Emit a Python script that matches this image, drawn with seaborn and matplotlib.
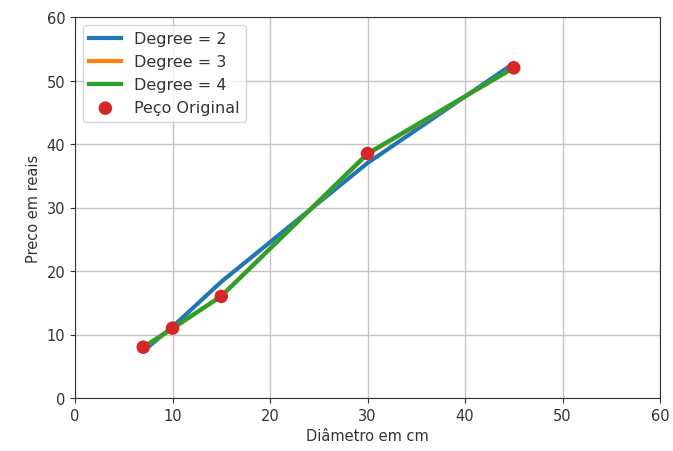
import matplotlib
matplotlib.use("Agg")
import matplotlib.pyplot as plt
import seaborn as sns
import pandas as pd

diametro = [7, 10, 15, 30, 45]
preco = [8, 11, 16, 38.5, 52]
deg2 = [7.4, 11.2, 18.3, 37.0, 52.7]
deg3 = [8.0, 10.9, 16.1, 38.4, 52.0]
deg4 = [8.0, 11.0, 16.0, 38.5, 52.0]

plt.rcParams.update({"text.color": "#333333", "axes.labelcolor": "#333333",
                     "xtick.color": "#333333", "ytick.color": "#333333",
                     "axes.edgecolor": "#333333", "font.size": 10.5})

fig = plt.figure(figsize=(6.73, 4.52), dpi=100)
ax = fig.add_axes([75/673, 1-399/452, (660-75)/673, (399-18)/452])

for vals, lab, col in [(deg2, "Degree = 2", "#1f77b4"),
                       (deg3, "Degree = 3", "#ff7f0e"),
                       (deg4, "Degree = 4", "#2ca02c")]:
    df = pd.DataFrame({"x": diametro, "y": vals})
    sns.lineplot(data=df, x="x", y="y", ax=ax, color=col, linewidth=3, label=lab, sort=False)

dfp = pd.DataFrame({"x": diametro, "y": preco})
sns.scatterplot(data=dfp, x="x", y="y", ax=ax, color="#d62728", s=95, edgecolor="none",
                label="Peço Original", zorder=5)

ax.set_xlim(0, 60)
ax.set_ylim(0, 60)
ax.set_xticks(range(0, 61, 10))
ax.set_yticks(range(0, 61, 10))
ax.grid(True, color="#c4c4c4", linewidth=1)
ax.set_axisbelow(True)
ax.set_xlabel("Diâmetro em cm")
ax.set_ylabel("Preco em reais")
ax.legend(loc="upper left", fontsize=11.5)

fig.savefig("out.png", dpi=100)
